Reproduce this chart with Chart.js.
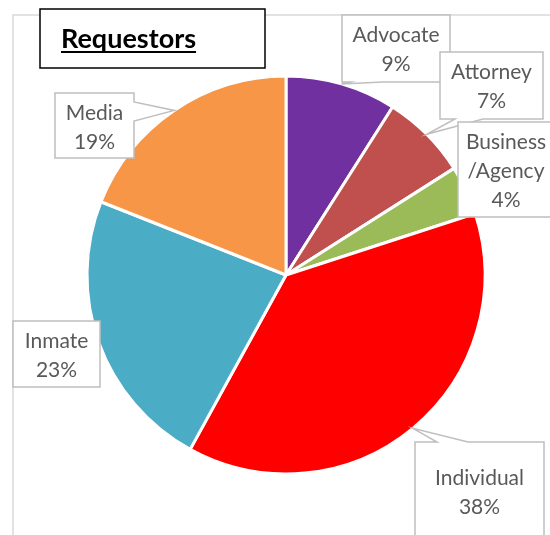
<!DOCTYPE html>
<html lang="en">
<head>
<meta charset="UTF-8">
<title>Requestors</title>
<style>
  body { margin: 0; background: #fff; }
  #wrap { width: 550px; height: 535px; position: relative; }
</style>
</head>
<body>
<div id="wrap"><canvas id="pie" width="550" height="535"></canvas></div>
<script src="https://cdn.jsdelivr.net/npm/chart.js"></script>
<script>
// chart data
const categories = ['Advocate', 'Attorney', 'Business\n/Agency', 'Individual', 'Inmate', 'Media'];
const shares = [9, 7, 4, 38, 23, 19];
const sliceColors = ['#7030A0', '#C0504D', '#9BBB59', '#FF0000', '#4BACC6', '#F79646'];

// callout boxes (layout only), tail = which edge the pointer leaves from and its base span
const callouts = [
    { x: 342, y: 15, w: 108, h: 67, tail: { edge: 'bottom', a: 350, b: 383 } },
    { x: 440, y: 52, w: 103, h: 67, tail: { edge: 'bottom', a: 455, b: 483 } },
    { x: 458, y: 122, w: 96, h: 95, tail: null },
    { x: 415, y: 442, w: 129, h: 100, tail: { edge: 'top', a: 437, b: 468 } },
    { x: 13, y: 321, w: 87, h: 66, tail: null },
    { x: 55, y: 93, w: 79, h: 65, tail: { edge: 'right', a: 102, b: 121 } }
];

const LABEL_FONT = '21px Lato, "Open Sans", sans-serif';

// draws a box, optionally with a wedge pointing to (tx,ty)
function drawCallout(ctx, box, tx, ty) {
    const { x, y, w, h, tail } = box;
    ctx.beginPath();
    ctx.moveTo(x, y);
    if (tail && tail.edge === 'top') {
        ctx.lineTo(tail.a, y); ctx.lineTo(tx, ty); ctx.lineTo(tail.b, y);
    }
    ctx.lineTo(x + w, y);
    if (tail && tail.edge === 'right') {
        ctx.lineTo(x + w, tail.a); ctx.lineTo(tx, ty); ctx.lineTo(x + w, tail.b);
    }
    ctx.lineTo(x + w, y + h);
    if (tail && tail.edge === 'bottom') {
        ctx.lineTo(tail.b, y + h); ctx.lineTo(tx, ty); ctx.lineTo(tail.a, y + h);
    }
    ctx.lineTo(x, y + h);
    ctx.closePath();
    ctx.fillStyle = '#fff';
    ctx.fill();
    ctx.strokeStyle = '#BFBFBF';
    ctx.lineWidth = 1.5;
    ctx.stroke();
}

const framePlugin = {
    id: 'frame',
    beforeDraw(chart) {
        const ctx = chart.ctx;
        ctx.save();
        ctx.strokeStyle = '#D9D9D9';
        ctx.lineWidth = 1.5;
        ctx.beginPath();
        ctx.moveTo(13, 535);
        ctx.lineTo(13, 15);
        ctx.lineTo(550, 15);
        ctx.stroke();
        ctx.restore();
    },
    afterDraw(chart) {
        const ctx = chart.ctx;
        const arcs = chart.getDatasetMeta(0).data;
        ctx.save();
        arcs.forEach((arc, i) => {
            const mid = (arc.startAngle + arc.endAngle) / 2;
            const tx = arc.x + Math.cos(mid) * arc.outerRadius;
            const ty = arc.y + Math.sin(mid) * arc.outerRadius;
            const box = callouts[i];
            drawCallout(ctx, box, tx, ty);
            const lines = categories[i].split('\n');
            lines.push(chart.data.datasets[0].data[i] + '%');
            ctx.fillStyle = '#595959';
            ctx.font = LABEL_FONT;
            ctx.textAlign = 'center';
            ctx.textBaseline = 'middle';
            const lh = 29;
            let cy = box.y + 20;
            if (i === 3) cy = box.y + 36;
            lines.forEach((ln, k) => ctx.fillText(ln, box.x + box.w / 2, cy + k * lh));
        });

        // title box
        ctx.fillStyle = '#fff';
        ctx.fillRect(40, 9, 225, 59);
        ctx.strokeStyle = '#000';
        ctx.lineWidth = 1.5;
        ctx.strokeRect(40, 9, 225, 59);
        ctx.fillStyle = '#000';
        ctx.font = 'bold 27px Lato, "Open Sans", sans-serif';
        ctx.textAlign = 'left';
        ctx.textBaseline = 'alphabetic';
        ctx.fillText('Requestors', 61, 48);
        const tw = ctx.measureText('Requestors').width;
        ctx.fillRect(61, 51, tw, 2);
        ctx.restore();
    }
};

new Chart(document.getElementById('pie'), {
    type: 'pie',
    data: {
        labels: categories,
        datasets: [{
            data: shares,
            backgroundColor: sliceColors,
            borderColor: '#fff',
            borderWidth: 3,
            radius: 199
        }]
    },
    options: {
        responsive: false,
        animation: false,
        layout: { padding: { left: 86, right: 64, top: 76, bottom: 61 } },
        plugins: {
            legend: { display: false },
            tooltip: { enabled: false }
        }
    },
    plugins: [framePlugin]
});
</script>
</body>
</html>
